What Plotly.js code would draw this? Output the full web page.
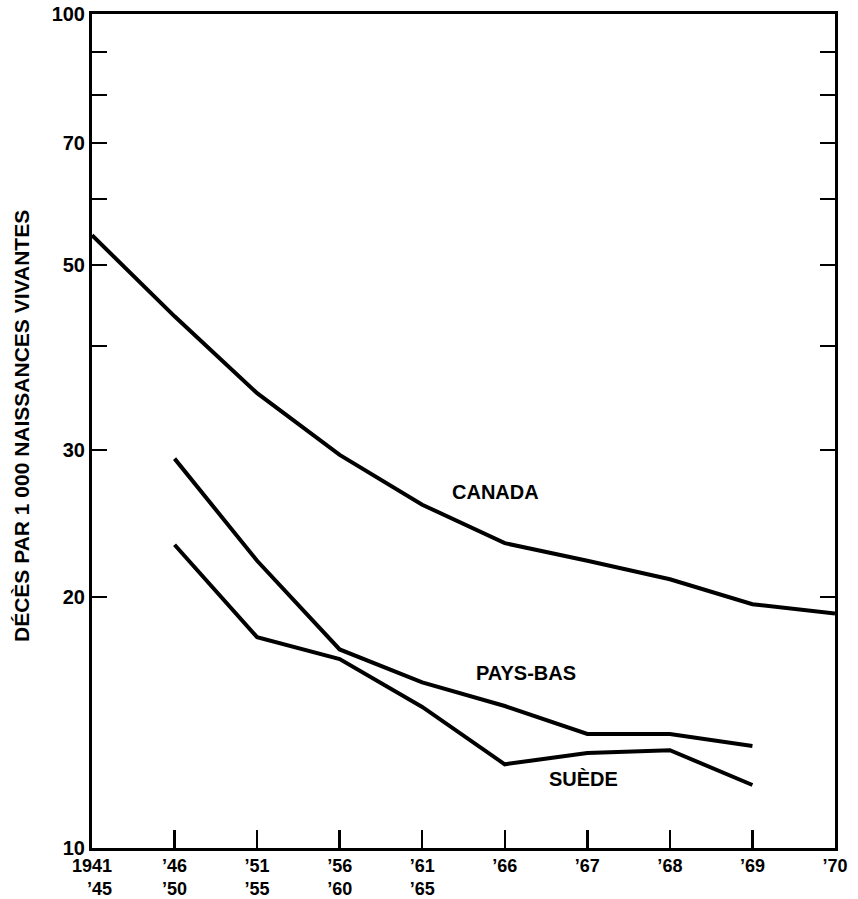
<!DOCTYPE html>
<html>
<head>
<meta charset="utf-8">
<script src="https://cdn.plot.ly/plotly-3.0.1.min.js"></script>
<style>html,body{margin:0;padding:0;background:#fff;}#chart{width:858px;height:899px;}</style>
</head>
<body>
<div id="chart"></div>
<script>
var categories = ["1941<br>&nbsp;&nbsp;&nbsp;’45", "’46<br>’50", "’51<br>’55", "’56<br>’60", "’61<br>’65", "’66", "’67", "’68", "’69", "’70"];
var canada = [54.3, 43.4, 35.1, 29.6, 25.8, 23.2, 22.1, 21.0, 19.6, 19.1];
var paysBas = [29.3, 22.1, 17.3, 15.8, 14.8, 13.7, 13.7, 13.25];
var suede = [23.1, 17.9, 16.85, 14.76, 12.6, 13.0, 13.1, 11.9];
var yTickVals = [10, 20, 30, 40, 50, 60, 70, 80, 90, 100];
var yTickText = ["10", "20", "30", "", "50", "", "70", "", "", "100"];
var seriesLabels = ["CANADA", "PAYS-BAS", "SUÈDE"];
var yTitle = "DÉCÈS PAR 1 000 NAISSANCES VIVANTES";

var FONT = "Liberation Sans, Arial, Helvetica, sans-serif";
var lineStyle = {color: "#000", width: 4};

var traces = [
  {x: categories, y: canada, type: "scatter", mode: "lines", line: lineStyle, name: seriesLabels[0], hoverinfo: "y"},
  {x: categories.slice(1, 1 + paysBas.length), y: paysBas, type: "scatter", mode: "lines", line: lineStyle, name: seriesLabels[1], hoverinfo: "y"},
  {x: categories.slice(1, 1 + suede.length), y: suede, type: "scatter", mode: "lines", line: lineStyle, name: seriesLabels[2], hoverinfo: "y"}
];

var layout = {
  width: 858, height: 899,
  margin: {l: 92, r: 23, t: 14, b: 51, pad: 0},
  paper_bgcolor: "#fff", plot_bgcolor: "#fff",
  showlegend: false,
  font: {family: FONT, color: "#000", size: 19, weight: "bold"},
  xaxis: {
    type: "category", categoryorder: "array", categoryarray: categories,
    range: [0, categories.length - 1],
    showgrid: false, zeroline: false,
    showline: true, linecolor: "#000", linewidth: 3, mirror: true,
    ticks: "inside", ticklen: 18, tickwidth: 2.5, tickcolor: "#000",
    ticklabelstandoff: -1,
    tickfont: {family: FONT, size: 18, color: "#000", weight: "bold"},
    tickangle: 0
  },
  yaxis: {
    type: "log", range: [1, 2],
    tickmode: "array", tickvals: yTickVals, ticktext: yTickText,
    showgrid: false, zeroline: false,
    showline: true, linecolor: "#000", linewidth: 3, mirror: "ticks",
    ticks: "inside", ticklen: 15, tickwidth: 2.5, tickcolor: "#000",
    tickfont: {family: FONT, size: 20, color: "#000", weight: "bold"}
  },
  annotations: [
    {text: seriesLabels[0], xref: "x", yref: "y", x: 4.89, y: 1.4269, showarrow: false, xanchor: "center", yanchor: "middle", font: {family: FONT, size: 20, color: "#000", weight: "bold"}},
    {text: seriesLabels[1], xref: "x", yref: "y", x: 5.26, y: 1.2098, showarrow: false, xanchor: "center", yanchor: "middle", font: {family: FONT, size: 20, color: "#000", weight: "bold"}},
    {text: seriesLabels[2], xref: "x", yref: "y", x: 5.95, y: 1.0827, showarrow: false, xanchor: "center", yanchor: "middle", font: {family: FONT, size: 20, color: "#000", weight: "bold"}},
    {text: yTitle, xref: "paper", yref: "paper", x: -0.0942, y: 0.506, textangle: -90, showarrow: false, xanchor: "center", yanchor: "middle", font: {family: FONT, size: 21, color: "#000", weight: "bold"}}
  ]
};

Plotly.newPlot("chart", traces, layout, {displayModeBar: false, staticPlot: true});
</script>
</body>
</html>
